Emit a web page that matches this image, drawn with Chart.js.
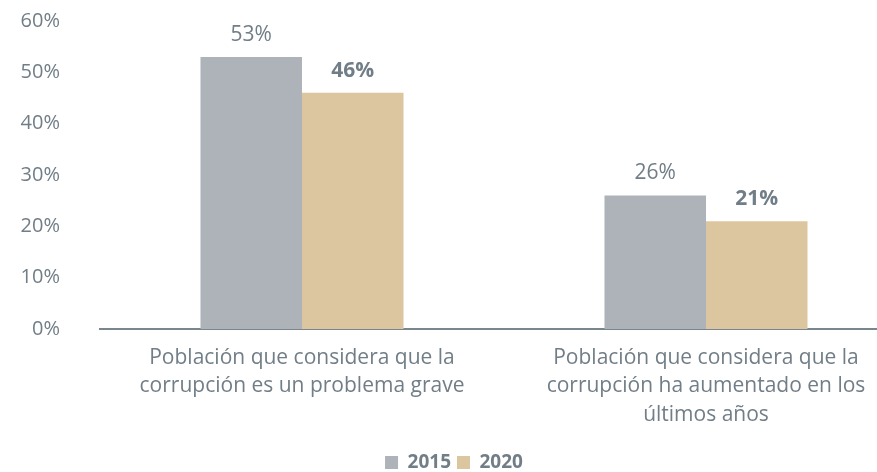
<!DOCTYPE html>
<html>
<head>
<meta charset="utf-8">
<script src="https://cdn.jsdelivr.net/npm/chart.js@4/dist/chart.umd.min.js"></script>
<style>
  html, body { margin: 0; padding: 0; background: #fff; overflow: hidden; }
  #wrap { width: 932px; height: 472px; }
</style>
</head>
<body>
<div id="wrap"><canvas id="chart"></canvas></div>
<script>
const categories = [
  ["Población que considera que la", "corrupción es un problema grave"],
  ["Población que considera que la", "corrupción ha aumentado en los", "últimos años"]
];
const years = ["2015", "2020"];
const values2015 = [53, 26];
const values2020 = [46, 21];
const yTicks = [0, 10, 20, 30, 40, 50, 60];

const textColor = "#717e87";
const fontFamily = "'Open Sans', 'Noto Sans', sans-serif";

// value labels above the bars
const barLabels = {
  id: "barLabels",
  afterDatasetsDraw(chart) {
    const ctx = chart.ctx;
    ctx.save();
    ctx.fillStyle = textColor;
    ctx.textAlign = "center";
    ctx.textBaseline = "middle";
    chart.data.datasets.forEach((ds, i) => {
      ctx.font = (i === 1 ? "bold " : "") + "21px " + fontFamily;
      chart.getDatasetMeta(i).data.forEach((bar, j) => {
        ctx.fillText(ds.data[j] + "%", bar.x, bar.y - 22);
      });
    });
    ctx.restore();
  }
};

new Chart(document.getElementById("chart").getContext("2d"), {
  type: "bar",
  data: {
    labels: categories,
    datasets: [
      { label: years[0], data: values2015, backgroundColor: "#adb3b9" },
      { label: years[1], data: values2020, backgroundColor: "#dcc6a0" }
    ]
  },
  options: {
    responsive: true,
    maintainAspectRatio: false,
    animation: false,
    datasets: {
      bar: { categoryPercentage: 0.5025, barPercentage: 1.0 }
    },
    layout: { padding: { top: 21, left: 0, right: 24, bottom: -10 } },
    scales: {
      x: {
        grid: { display: false, drawTicks: false },
        border: { display: true, color: "#7a868e", width: 2 },
        ticks: {
          color: textColor,
          font: { family: fontFamily, size: 21, lineHeight: 1.35 },
          padding: 15,
          maxRotation: 0,
          autoSkip: false
        },
        afterFit(scale) {
          scale.paddingLeft = 0;
          scale.paddingRight = 0;
          scale.height += 3;
        }
      },
      y: {
        min: 0,
        max: 60,
        afterBuildTicks(scale) {
          scale.ticks = yTicks.map(v => ({ value: v }));
        },
        grid: { display: false, drawTicks: false },
        border: { display: false },
        ticks: {
          color: textColor,
          font: { family: fontFamily, size: 20 },
          padding: 40,
          callback: v => v + "%"
        },
        afterFit(scale) {
          scale.width = 100;
          scale.paddingTop = 0;
          scale.paddingBottom = 0;
        }
      }
    },
    plugins: {
      legend: {
        position: "bottom",
        labels: {
          color: textColor,
          font: { family: fontFamily, size: 19, weight: "bold" },
          boxWidth: 13,
          boxHeight: 13,
          padding: 6
        }
      },
      tooltip: { enabled: false }
    }
  },
  plugins: [barLabels]
});
</script>
</body>
</html>
